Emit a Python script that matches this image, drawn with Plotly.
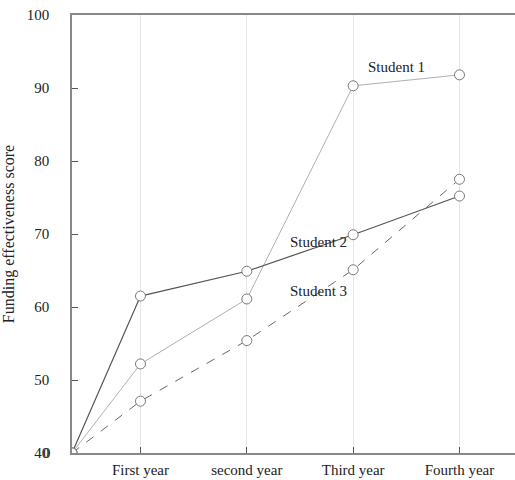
import plotly.graph_objects as go

categories = ["", "First year", "second year", "Third year", "Fourth year"]
x_pos = [0.356, 1, 2, 3, 4]
student1 = [40, 52.2, 61.1, 90.3, 91.8]
student2 = [40, 61.5, 64.9, 69.9, 75.2]
student3 = [40, 47.1, 55.4, 65.1, 77.5]
y_ticks = [40, 50, 60, 70, 80, 90, 100]

FONT = "Liberation Serif"

fig = go.Figure()
marker = dict(symbol="circle", size=10, color="white", line=dict(color="#777", width=1))
fig.add_trace(go.Scatter(x=x_pos, y=student1, mode="lines+markers",
                         line=dict(color="#b0b0b0", width=1), marker=marker, showlegend=False))
fig.add_trace(go.Scatter(x=x_pos, y=student2, mode="lines+markers",
                         line=dict(color="#555", width=1.2), marker=marker, showlegend=False))
fig.add_trace(go.Scatter(x=x_pos, y=student3, mode="lines+markers",
                         line=dict(color="#666", width=1, dash="dash"), marker=marker, showlegend=False))

fig.update_layout(
    width=515, height=480,
    margin=dict(l=72, r=0, t=15, b=27),
    paper_bgcolor="white", plot_bgcolor="white",
    font=dict(family=FONT, size=15, color="#222"),
    xaxis=dict(range=[0.356, 4.522], tickmode="array", tickvals=x_pos[1:], ticktext=categories[1:],
               showgrid=True, gridcolor="#e6e6e6", gridwidth=1,
               showline=True, linecolor="#888", linewidth=1.5, mirror=True,
               ticks="inside", ticklen=6, tickcolor="#555", zeroline=False, automargin=False,
               ticklabelstandoff=2, tickfont=dict(size=15)),
    yaxis=dict(range=[40, 100], tickmode="array", tickvals=y_ticks,
               showgrid=False, showline=True, linecolor="#888", linewidth=1.5,
               ticks="inside", ticklen=6, tickcolor="#555", zeroline=False, automargin=False,
               ticklabelstandoff=18, tickfont=dict(size=15),
               title=dict(text="Funding effectiveness score", font=dict(size=16), standoff=10)),
)

annotations = [
    ("Student 1", 3.41, 92.9),
    ("Student 2", 2.67, 68.9),
    ("Student 3", 2.67, 62.2),
]
for text, x, y in annotations:
    fig.add_annotation(x=x, y=y, text=text, showarrow=False, font=dict(size=15, color="#222"))

fig.add_annotation(x=0, xref="paper", y=40, yref="y", text="0", showarrow=False,
                   xanchor="right", xshift=-19, font=dict(size=15, color="#222"))

fig.write_html("out.html", config={"displayModeBar": False},
               post_script="document.body.style.margin='0';document.body.style.overflow='hidden';")
